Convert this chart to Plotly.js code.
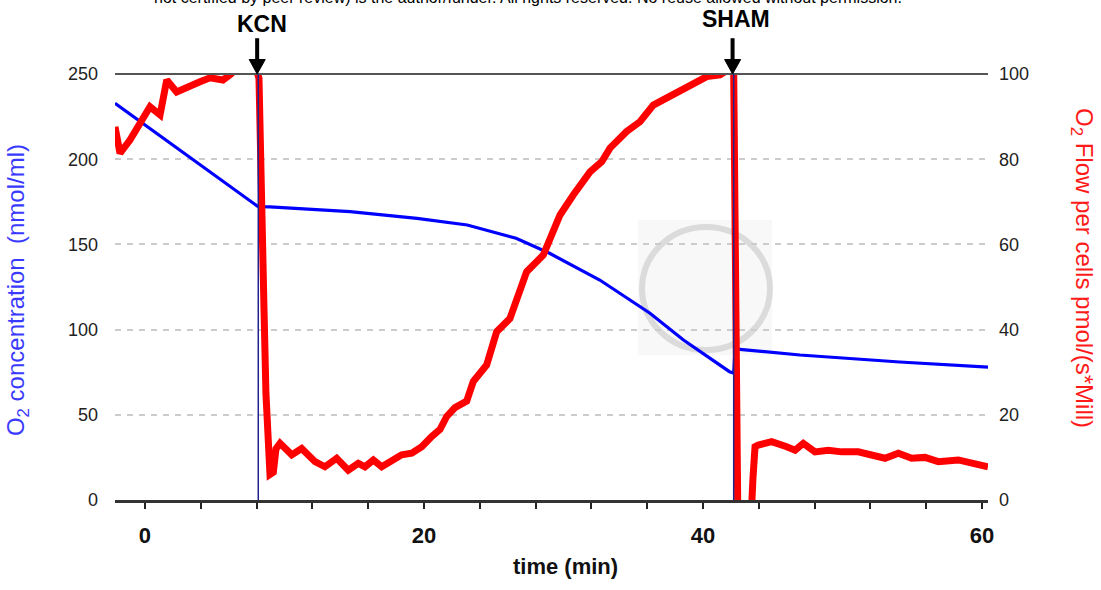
<!DOCTYPE html>
<html>
<head>
<meta charset="utf-8">
<script src="https://cdn.plot.ly/plotly-3.0.1.min.js"></script>
<style>
html,body{margin:0;padding:0;background:#fff;}
#chart{width:1101px;height:590px;}
</style>
</head>
<body>
<div id="chart"></div>
<script>
// O2 concentration (left axis, nmol/ml)
const concTime = [-2.15, 0, 3.94, 8.12, 8.96, 14.7, 19.5, 23.1, 26.6, 29.0, 32.6, 36.2, 38.6, 41.9, 42.2, 42.3, 42.65, 46.95, 54.1, 60.43];
const concValue = [232.8, 220.1, 196.8, 172.1, 172, 169.2, 165.3, 161.4, 153.6, 144.8, 129.1, 109.6, 93.9, 75.3, 74.5, 89.5, 88.4, 85.1, 81, 78];

// O2 flow per cells (right axis, pmol/(s*Mill))
const flowTime = [-2.15, -1.79, -1.08, -0.36, 0.36, 1.08, 1.56, 2.27, 2.99, 3.94, 4.66, 5.59, 6.09, 6.81, 7.53, 8.03,
  8.17, 8.28, 8.39, 8.53, 8.67, 8.82, 8.96, 9.2, 9.39, 9.68, 10.52, 11.23, 12.19, 12.9, 13.74, 14.57, 15.29, 15.77,
  16.37, 16.97, 17.68, 18.4, 19.12, 19.84, 20.55, 21.15, 21.63, 22.22, 23.06, 23.53, 24.49, 25.21, 26.16, 26.88,
  27.36, 28.55, 29.27, 29.75, 30.7, 31.9, 32.74, 33.33, 34.53, 35.48, 36.44, 37.4, 38.35, 39.3, 40.27, 41.22, 41.79,
  42.2, 42.35, 42.5, 43.0, 43.37, 43.58, 43.73, 43.96, 44.92, 46.0, 46.6, 47.19, 48.03, 48.98, 49.94, 51.13, 53.05,
  54.0, 54.96, 55.91, 56.87, 58.3, 59.26, 60.43];
const flowValue = [87.6, 81.4, 84.5, 88.5, 92.3, 90.4, 98.6, 95.8, 97, 98.2, 99.1, 98.6, 99.8, 102, 101, 100.5,
  99, 75, 55, 45, 25, 12, 6, 6.5, 12, 13.3, 10.6, 12.1, 9, 7.8, 9.8, 7, 8.6, 7.8,
  9.4, 7.8, 9, 10.6, 11, 12.5, 14.9, 16.6, 19.6, 21.7, 23.2, 27.8, 31.7, 39.5, 42.6, 48.9,
  53.6, 57.5, 63, 66.9, 71.6, 77, 79.4, 82.6, 86.5, 88.8, 92.7, 94.3, 95.8, 97.8, 99.4, 99.8, 101,
  100.5, 50, -5, -20, -10, 5, 12.5, 12.9, 13.7, 12.5, 11.7, 13.3, 11.3, 11.7, 11.3, 11.3, 9.8,
  11, 9.8, 10, 9, 9.4, 8.8, 7.8];

// axis ticks
const xTickVals = [0, 20, 40, 60];
const xTickText = ['0', '20', '40', '60'];
const xMinorStep = 4;
const yLeftTicks = [0, 50, 100, 150, 200, 250];
const yRightTicks = [0, 20, 40, 60, 80, 100];

// injection events
const eventNames = ['KCN', 'SHAM'];
const eventTimes = [8.12, 42.2];

const FONT = 'Arial, "Liberation Sans", sans-serif';

const traces = [
  {x: concTime, y: concValue, type: 'scatter', mode: 'lines', yaxis: 'y',
   line: {color: '#0000ff', width: 3.2}, hoverinfo: 'skip'},
  {x: flowTime, y: flowValue, type: 'scatter', mode: 'lines', yaxis: 'y2',
   line: {color: '#ff0000', width: 7}, hoverinfo: 'skip'}
];

const shapes = [
  // watermark
  {type: 'rect', xref: 'paper', yref: 'paper', x0: 0.599, x1: 0.7526, y0: 0.34, y1: 0.657,
   fillcolor: '#f8f8f8', line: {width: 0}, layer: 'below'},
  {type: 'circle', xref: 'paper', yref: 'paper', x0: 0.6037, x1: 0.7503, y0: 0.352, y1: 0.641,
   line: {color: 'rgba(190,190,190,0.5)', width: 6}, layer: 'below'},
  // top border line
  {type: 'line', xref: 'paper', yref: 'paper', x0: 0, x1: 1, y0: 1, y1: 1,
   line: {color: '#555555', width: 2}}
];
const annotations = [];
eventTimes.forEach((t, i) => {
  shapes.push({type: 'line', xref: 'x', yref: 'paper', x0: t, x1: t, y0: 0, y1: 1,
    line: {color: '#22228f', width: 1.5}, layer: 'above'});
  shapes.push({type: 'line', xref: 'x', yref: 'paper', x0: t - 0.08, x1: t - 0.08, y0: 1.084, y1: 1.025,
    line: {color: '#000000', width: 4}});
  shapes.push({type: 'path', xref: 'x', yref: 'paper',
    path: `M ${t - 0.65} 1.034 L ${t + 0.5} 1.034 L ${t - 0.08} 1.0 Z`,
    fillcolor: '#000000', line: {color: '#000000', width: 1}});
  annotations.push({xref: 'x', yref: 'paper', x: t + (i === 0 ? 0.3 : 0.2), y: i === 0 ? 1.118 : 1.13,
    text: '<b>' + eventNames[i] + '</b>', showarrow: false,
    font: {family: FONT, size: 23, color: '#000'}, xanchor: 'center', yanchor: 'middle'});
});

annotations.push(
  {xref: 'paper', yref: 'paper', x: 0.0424, y: 1.18, xanchor: 'left', yanchor: 'middle',
   text: 'not certified by peer review) is the author/funder. All rights reserved. No reuse allowed without permission.',
   showarrow: false, font: {family: FONT, size: 16, color: '#000'}},
  {xref: 'paper', yref: 'paper', x: 0.5166, y: -0.157, xanchor: 'center', yanchor: 'middle',
   text: '<b>time (min)</b>', showarrow: false, font: {family: FONT, size: 22, color: '#111'}},
  {xref: 'paper', yref: 'paper', x: -0.111, y: 0.493, xanchor: 'center', yanchor: 'middle', textangle: -90,
   text: 'O<sub>2</sub> concentration  (nmol/ml)', showarrow: false, font: {family: FONT, size: 24, color: '#3a3aff'}},
  {xref: 'paper', yref: 'paper', x: 1.1088, y: 0.5446, xanchor: 'center', yanchor: 'middle', textangle: 90,
   text: 'O<sub>2</sub> Flow per cells pmol/(s*Mill)', showarrow: false, font: {family: FONT, size: 24, color: '#ff1a1a'}}
);

const layout = {
  width: 1101, height: 590,
  margin: {l: 115, r: 113, t: 74, b: 90},
  paper_bgcolor: '#ffffff', plot_bgcolor: '#ffffff',
  showlegend: false,
  font: {family: FONT},
  xaxis: {
    range: [-2.15, 60.43], tickmode: 'array', tickvals: xTickVals, ticktext: xTickText,
    ticks: 'outside', ticklen: 6, tickwidth: 2, tickcolor: '#222',
    minor: {tick0: 0, dtick: xMinorStep, ticks: 'outside', ticklen: 6, tickwidth: 2, tickcolor: '#222', showgrid: false},
    showline: true, linecolor: '#333', linewidth: 3,
    showgrid: false, zeroline: false,
    tickfont: {family: FONT, size: 22, color: '#111', weight: 'bold'},
    ticklabelstandoff: 8
  },
  yaxis: {
    range: [0, 250], tickmode: 'array', tickvals: yLeftTicks,
    showgrid: true, gridcolor: '#cccccc', gridwidth: 2, griddash: '6px,6px',
    zeroline: false, showline: false, ticks: '',
    tickfont: {family: FONT, size: 18, color: '#222'},
    ticklabelstandoff: 16
  },
  yaxis2: {
    range: [0, 100], overlaying: 'y', side: 'right', tickmode: 'array', tickvals: yRightTicks,
    showgrid: false, zeroline: false, showline: false, ticks: '',
    tickfont: {family: FONT, size: 18, color: '#222'},
    ticklabelstandoff: 10
  },
  shapes: shapes,
  annotations: annotations
};

Plotly.newPlot('chart', traces, layout, {staticPlot: true, displayModeBar: false});
</script>
</body>
</html>
